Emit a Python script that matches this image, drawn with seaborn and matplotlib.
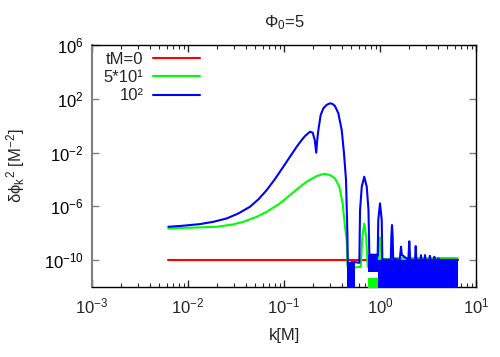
import numpy as np
import pandas as pd
import matplotlib
matplotlib.use('Agg')
import matplotlib.pyplot as plt
import seaborn as sns
from matplotlib.lines import Line2D
from matplotlib.ticker import FixedLocator, LogFormatterMathtext, LogLocator, NullFormatter, NullLocator

# ---------------- data (log10 k, log10 value) ----------------
series_labels = ['tM=0', '5*10\u00b9', '10\u00b2']
series_colors = ['#ff0000', '#00ff00', '#0000ff']

red_logk = [-2.205, 0.81]
red_logv = [-10.0, -10.0]

green_logk = [-2.205, -1.979, -1.70, -1.528, -1.424, -1.285, -1.18, -1.042, -0.9375, -0.833,
              -0.764, -0.66, -0.583, -0.521, -0.469,
              -0.424, -0.389, -0.365, -0.347, -0.340, -0.335,
              -0.20, -0.184, -0.164, -0.144, -0.128,
              -0.018, -0.009, 0.0, 0.009, 0.018,
              0.115, 0.125, 0.135, 0.15, 0.81]
green_logv = [-7.64, -7.59, -7.52, -7.34, -7.15, -6.78, -6.40, -5.78, -5.16, -4.54,
              -4.17, -3.75, -3.58, -3.67, -3.92,
              -4.54, -5.78, -7.52, -8.50, -10.0, -10.6,
              -10.5, -8.26, -7.27, -8.26, -10.5,
              -10.3, -9.0, -8.31, -9.0, -10.2,
              -9.9, -9.5, -9.9, -9.85, -9.85]

blue_logk = [-2.205, -2.049, -1.875, -1.736, -1.597, -1.476, -1.354, -1.267, -1.18, -1.094,
             -1.007, -0.9375, -0.868, -0.816, -0.781, -0.729, -0.701,
             -0.68, -0.664, -0.654, -0.642, -0.618, -0.59, -0.555, -0.521, -0.495, -0.469,
             -0.434, -0.399, -0.375, -0.354, -0.340, -0.335,
             -0.30, -0.26,
             -0.215, -0.208, -0.19, -0.164, -0.138, -0.12, -0.11,
             -0.10, -0.03,
             -0.024, -0.018, 0.0, 0.018, 0.024,
             0.11, 0.113, 0.118, 0.125, 0.132, 0.137,
             0.205, 0.211, 0.219, 0.227,
             0.295, 0.30, 0.305, 0.31, 0.315,
             0.365, 0.372, 0.379, 0.422, 0.427, 0.432, 0.464, 0.469, 0.474,
             0.515, 0.52, 0.525, 0.561, 0.566, 0.571, 0.603, 0.608, 0.613, 0.81]
blue_logv = [-7.52, -7.44, -7.32, -7.15, -6.90, -6.53, -6.03, -5.48, -4.79, -3.97,
             -3.05, -2.31, -1.57, -1.07, -0.77, -0.45, -0.52,
             -1.07, -2.01, -1.07, -0.32, 0.79, 1.29, 1.55, 1.66, 1.62, 1.46,
             0.92, -0.32, -2.06, -4.04, -8.01, -10.4,
             -10.15, -10.15,
             -10.2, -6.28, -4.54, -3.80, -4.54, -6.28, -10.0,
             -9.6, -9.6,
             -9.7, -7.02, -5.78, -7.02, -9.95,
             -9.98, -9.9, -8.3, -7.39, -8.3, -9.9,
             -9.98, -9.6, -9.0, -9.6,
             -9.98, -9.3, -8.6, -9.3, -9.98,
             -9.98, -8.96, -9.98, -9.98, -9.63, -9.98, -9.98, -9.63, -9.98,
             -9.98, -9.68, -9.98, -9.98, -9.75, -9.98, -9.98, -9.87, -9.98, -9.98]

# dense oscillation bands (log10 k, top / bottom envelope in log10)
blue_band_a_logk = [-0.34, -0.26]
blue_band_a_top = [-10.12, -10.12]
blue_band_b_logk = [-0.125, -0.021]
blue_band_b_top = [-9.6, -9.6]
blue_band_b_bottom = [-10.9, -10.9]
blue_band_c_logk = [-0.021, 0.81]
blue_band_c_top = [-9.98, -9.98]
green_band_a_logk = [-0.125, -0.021]
green_band_a_top = [-11.3, -11.3]
green_band_c_logk = [-0.021, 0.81]
green_band_c_top = [-9.85, -9.85]
band_floor = -13.0

x_ticks = [1e-3, 1e-2, 1e-1, 1e0, 1e1]
y_ticks = [1e-10, 1e-6, 1e-2, 1e2, 1e6]

# ---------------- style ----------------
sns.set_theme(style='ticks')
plt.rcParams['font.family'] = ['Liberation Sans', 'DejaVu Sans']
plt.rcParams['mathtext.fontset'] = 'custom'
plt.rcParams['mathtext.rm'] = 'Liberation Sans'
plt.rcParams['mathtext.it'] = 'Liberation Sans:italic'
plt.rcParams['mathtext.bf'] = 'Liberation Sans:bold'

def p10(a):
    return [10 ** v for v in a]

frames = []
for lab, lk, lv in zip(series_labels, [red_logk, green_logk, blue_logk], [red_logv, green_logv, blue_logv]):
    frames.append(pd.DataFrame({'k': p10(lk), 'v': p10(lv), 'series': lab}))
df = pd.concat(frames, ignore_index=True)

fig = plt.figure(figsize=(5.0, 3.57), dpi=100)
ax = fig.add_axes([0.184, 0.196, 0.768, 0.678])

sns.lineplot(data=df, x='k', y='v', hue='series', hue_order=series_labels,
             palette=series_colors, sort=False, estimator=None, legend=False,
             lw=1.5, ax=ax)
ax.set_xscale('log')
ax.set_yscale('log')
for i, ln in enumerate(ax.lines[:3]):
    ln.set_zorder(2 + i)
    ln.set_solid_joinstyle('round')

fl = 10 ** band_floor
ax.fill_between(p10(green_band_a_logk), p10(green_band_a_top), fl, color=series_colors[1], lw=0, zorder=3)
ax.fill_between(p10(green_band_c_logk), p10(green_band_c_top), fl, color=series_colors[1], lw=0, zorder=3)
ax.fill_between(p10(blue_band_a_logk), p10(blue_band_a_top), fl, color=series_colors[2], lw=0, zorder=4)
ax.fill_between(p10(blue_band_b_logk), p10(blue_band_b_top), p10(blue_band_b_bottom), color=series_colors[2], lw=0, zorder=4)
ax.fill_between(p10(blue_band_c_logk), p10(blue_band_c_top), fl, color=series_colors[2], lw=0, zorder=4)

ax.set_xlim(1e-3, 1e1)
ax.set_ylim(1e-12, 1e6)
ax.xaxis.set_major_locator(FixedLocator(x_ticks))
ax.xaxis.set_major_formatter(LogFormatterMathtext())
ax.xaxis.set_minor_locator(LogLocator(base=10, subs=np.arange(2, 10), numticks=20))
ax.xaxis.set_minor_formatter(NullFormatter())
ax.yaxis.set_major_locator(FixedLocator(y_ticks))
ax.yaxis.set_major_formatter(LogFormatterMathtext())
ax.yaxis.set_minor_locator(NullLocator())

ax.tick_params(which='both', direction='in', top=True, right=True, labelsize=12)
ax.tick_params(axis='x', pad=7)
ax.tick_params(axis='y', pad=6)
ax.tick_params(which='major', length=5, width=1)
ax.tick_params(which='minor', length=3, width=0.8)
ax.tick_params(axis='y', colors='#808080', labelcolor='black')

for s in ['bottom', 'right', 'top']:
    ax.spines[s].set_color('black')
    ax.spines[s].set_linewidth(1)
ax.spines['left'].set_color('#808080')
ax.spines['left'].set_linewidth(1.5)

ax.set_xlabel('k[M]', fontsize=12, labelpad=8)
ax.set_ylabel(r'$\mathregular{\delta\phi_k}^{\mathregular{2}}$ [M$^{\mathregular{-2}}$]', fontsize=12, labelpad=12)
ax.set_title(r'$\mathregular{\Phi_0}$=5', fontsize=12, pad=13)

handles = [Line2D([], [], color=c, lw=1.5) for c in series_colors]
leg = ax.legend(handles, series_labels, loc='upper left', bbox_to_anchor=(0.03, 0.972),
                frameon=False, markerfirst=False, fontsize=12, handlelength=2.8,
                handletextpad=0.6, labelspacing=0.2, borderpad=0, borderaxespad=0)

fig.savefig('out.png', dpi=100)
